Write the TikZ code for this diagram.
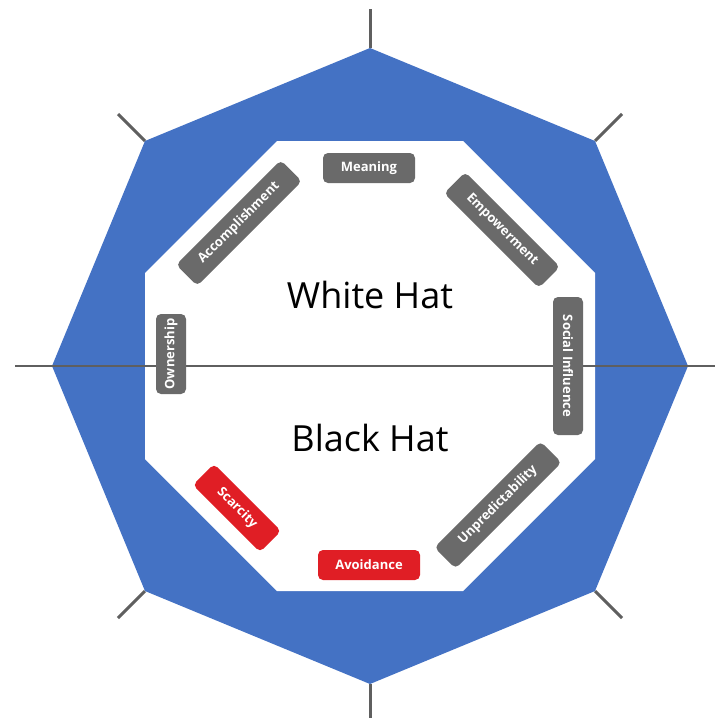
\documentclass[tikz,border=0pt]{standalone}
\usepackage{fontspec}
\setmainfont{Open Sans}
\definecolor{octblue}{HTML}{4472C4}
\definecolor{boxgray}{HTML}{6A6A6A}
\definecolor{boxred}{HTML}{E01E25}
\definecolor{linegray}{HTML}{5F5F5F}
\tikzset{
  tag/.style={rounded corners=5pt, minimum height=30pt, inner sep=0pt,
    text=white, font=\fontsize{13}{15}\selectfont\bfseries},
  graytag/.style={tag, fill=boxgray},
  redtag/.style={tag, fill=boxred},
  spoke/.style={draw=linegray, line width=3pt},
  midline/.style={draw=linegray, line width=2.5pt},
  hattext/.style={font=\fontsize{36}{40}\selectfont, anchor=base, inner sep=0pt}
}
\begin{document}
\begin{tikzpicture}[x=1pt,y=-1pt]
\useasboundingbox (0,0) rectangle (715,718);
% outer octagon vertices
\coordinate (oT) at (370,48);
\coordinate (oTR) at (595,141);
\coordinate (oR) at (688,366);
\coordinate (oBR) at (595,591);
\coordinate (oB) at (370,684);
\coordinate (oBL) at (145,591);
\coordinate (oL) at (52,366);
\coordinate (oTL) at (145,141);
% spoke ends
\coordinate (sT) at (370,9);
\coordinate (sTR) at (622,114);
\coordinate (sBR) at (622,618);
\coordinate (sB) at (370,718);
\coordinate (sBL) at (118,618);
\coordinate (sTL) at (118,114);
\coordinate (hl) at (15,366);
\coordinate (hr) at (715,366);
% spokes
\draw[spoke] (oT) -- (sT);
\draw[spoke] (oTR) -- (sTR);
\draw[spoke] (oBR) -- (sBR);
\draw[spoke] (oB) -- (sB);
\draw[spoke] (oBL) -- (sBL);
\draw[spoke] (oTL) -- (sTL);
% blue octagon
\fill[octblue] (oT) -- (oTR) -- (oR) -- (oBR) -- (oB) -- (oBL) -- (oL) -- (oTL) -- cycle;
% white inner octagon
\fill[white] (277,141) -- (463,141) -- (595,273) -- (595,459) -- (463,591) -- (277,591) -- (145,459) -- (145,273) -- cycle;
% horizontal line
\draw[midline] (hl) -- (hr);
% labels
\node[graytag, minimum width=92pt] (meaning) at (369,168) {Meaning};
\node[graytag, minimum width=148pt, rotate=45] (accomp) at (239,223) {Accomplishment};
\node[graytag, minimum width=134pt, rotate=-45] (empower) at (502,230) {Empowerment};
\node[graytag, minimum width=80pt, rotate=90] (owner) at (171,354) {Ownership};
\node[graytag, minimum width=138pt, rotate=-90] (social) at (568,366) {Social Influence};
\node[redtag, minimum width=95pt, rotate=-45] (scarcity) at (237,508) {Scarcity};
\node[redtag, minimum width=102pt] (avoid) at (369,565) {Avoidance};
\node[graytag, minimum width=150pt, rotate=45] (unpred) at (498,505) {Unpredictability};
% hat texts
\node[hattext] (white) at (370,308) {White Hat};
\node[hattext] (black) at (370,451) {Black Hat};
\end{tikzpicture}
\end{document}
